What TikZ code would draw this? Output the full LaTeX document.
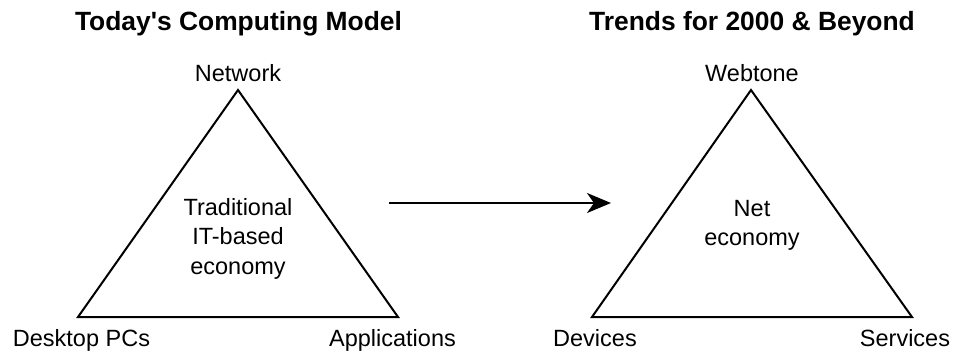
\documentclass[tikz,border=0pt]{standalone}
\usepackage{fontspec}
\setmainfont{Liberation Sans}
\usetikzlibrary{arrows.meta}
\begin{document}
\begin{tikzpicture}[x=1pt,y=-1pt,
  title/.style={font=\bfseries\fontsize{26.4}{30}\selectfont, anchor=base, inner sep=0pt},
  label/.style={font=\fontsize{23.5}{29}\selectfont, anchor=base, inner sep=0pt},
  inside/.style={font=\fontsize{23.5}{29.5}\selectfont, align=center, anchor=base, inner sep=0pt},
  tri/.style={draw=black, line width=2pt, line join=miter},
  flow/.style={draw=black, line width=2pt, -{Stealth[length=24pt, width=20pt, inset=7pt]}}]
  \useasboundingbox (0,0) rectangle (954,354);

  % Left model
  \node[title] (t1) at (238.5,30) {Today\textquotesingle s Computing Model};
  \coordinate (ltop) at (238,90);
  \coordinate (lleft) at (78,317);
  \coordinate (lright) at (398,317);
  \draw[tri] (ltop) -- (lleft) -- (lright) -- cycle;
  \node[label] (net) at (238,81) {Network};
  \node[label] (pcs) at (81.5,346) {Desktop PCs};
  \node[label] (apps) at (392.5,346) {Applications};
  % anchor=base of a multi-line node sits on its last line
  \node[inside] (trad) at (238,274) {Traditional\\IT-based\\economy};

  % Right model
  \node[title] (t2) at (752,30) {Trends for 2000 \& Beyond};
  \coordinate (rtop) at (751,90);
  \coordinate (rleft) at (592,317);
  \coordinate (rright) at (912,317);
  \draw[tri] (rtop) -- (rleft) -- (rright) -- cycle;
  \node[label] (web) at (752,81) {Webtone};
  \node[label] (dev) at (595,346) {Devices};
  \node[label] (svc) at (905,346) {Services};
  \node[inside] (neteco) at (752,245.5) {Net\\economy};

  % Transition arrow
  \coordinate (afrom) at (389,203);
  \coordinate (ato) at (611,203);
  \draw[flow] (afrom) -- (ato);
\end{tikzpicture}
\end{document}
